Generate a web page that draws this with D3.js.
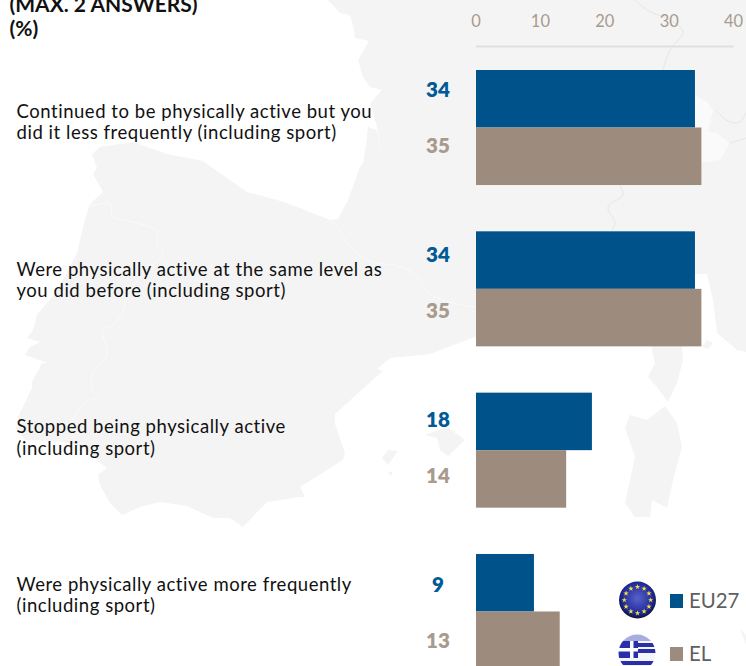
<!DOCTYPE html>
<html><head><meta charset="utf-8">
<script src="https://cdn.jsdelivr.net/npm/d3@7/dist/d3.min.js"></script>
<style>html,body{margin:0;padding:0;background:#fff;overflow:hidden}svg{display:block}text{font-family:Lato,"Open Sans",sans-serif}</style>
</head><body><svg id="c" width="746" height="666"></svg>
<script>
// ---- chart data
const categories = ["Continued","Same level","Stopped","More frequently"];
const categoryLines = [
  ["Continued to be physically active but you","did it less frequently (including sport)"],
  ["Were physically active at the same level as","you did before (including sport)"],
  ["Stopped being physically active","(including sport)"],
  ["Were physically active more frequently","(including sport)"]
];
const seriesNames = ["EU27","EL"];
const eu27 = [34,34,18,9];
const el = [35,35,14,13];
const xTicks = [0,10,20,30,40];
const titleLines = ["(MAX. 2 ANSWERS)","(%)"];

// ---- decorative background map outlines
const land = [[328,0],[340,13],[350,15],[354,30],[355,38],[369,41],[358,60],[363,77],[370,87],[382,90],[373,100],[370,104],[377,127],[383,159],[377,130],[368,127],[366,145],[363,163],[360,167],[348,200],[338,219],[330,220],[310,212],[292,205],[277,200],[247,192],[207,164],[203,161],[167,154],[133,142],[100,147],[92,154],[97,168],[93,174],[103,192],[90,204],[85,219],[77,253],[57,291],[37,315],[33,330],[27,338],[40,342],[30,347],[25,355],[48,363],[42,363],[32,382],[32,388],[18,417],[16,430],[25,440],[57,441],[67,443],[83,447],[100,463],[107,468],[98,475],[100,485],[110,503],[122,515],[140,507],[160,502],[187,506],[213,518],[230,518],[243,527],[267,502],[300,497],[305,497],[300,487],[343,460],[345,453],[335,424],[335,414],[377,376],[383,371],[377,369],[390,358],[430,354],[480,335],[600,315],[695,274],[707,274],[713,300],[717,333],[737,350],[746,352],[746,0]];
const islands = [
  [[652,345],[682,345],[683,360],[677,383],[668,402],[657,387],[648,377],[655,363],[652,350]],
  [[665,406],[677,423],[682,447],[673,480],[667,508],[652,500],[650,517],[635,517],[625,503],[630,480],[635,457],[625,428],[630,415],[647,420]],
  [[425,435],[447,427],[465,440],[448,456],[440,450],[437,438]],
  [[382,458],[388,450],[398,451],[388,465]],
  [[388,473],[393,477],[391,471]],
  [[740,629],[746,635],[746,645]],
  [[702,347],[707,340],[713,343],[708,349]]
];
const pale = [[695,95],[707,102],[713,110],[708,132],[717,133],[730,143],[720,160],[701,163],[695,160]];
const borders = [
  [[328,219],[340,231],[347,242],[367,260],[397,266],[417,276],[430,294],[457,304],[480,307]],
  [[88,207],[110,204],[113,217],[133,222],[157,231],[157,246],[163,253],[147,271],[127,294],[123,312],[113,325],[103,330],[107,355],[93,373],[92,390],[98,397],[85,402],[72,420],[65,430]],
  [[635,0],[647,10],[670,20],[683,32],[670,50],[663,70]],
  [[620,185],[623,195],[608,207],[615,223],[612,230]],
  [[715,110],[730,122],[740,122],[746,112]],
  [[730,143],[746,138]]
];

const svg = d3.select("#c");
const BLUE="#00538a", TAN="#9d8b7e", TANTXT="#a89a8e", BLUETXT="#005a96";

// defs
const defs = svg.append("defs");
const g1 = defs.append("radialGradient").attr("id","euG").attr("cx","50%").attr("cy","45%").attr("r","55%");
g1.append("stop").attr("offset","0%").attr("stop-color","#5a62c8");
g1.append("stop").attr("offset","75%").attr("stop-color","#1f2a9c");
g1.append("stop").attr("offset","100%").attr("stop-color","#0d1238");
defs.append("clipPath").attr("id","grC").append("circle").attr("cx",637).attr("cy",653).attr("r",18.5);
defs.append("filter").attr("id","soft").append("feGaussianBlur").attr("stdDeviation",0.5);

// map
const line = d3.line();
const mapG = svg.append("g");
mapG.append("path").attr("d",line(land)+"Z").attr("fill","#f4f4f4");
islands.forEach(p=>mapG.append("path").attr("d",line(p)+"Z").attr("fill","#f4f4f4"));
mapG.append("path").attr("d",line(pale)+"Z").attr("fill","#fafafa");
const curved = d3.line().curve(d3.curveCatmullRom);
borders.forEach(p=>mapG.append("path").attr("d",curved(p)).attr("fill","none")
  .attr("stroke",p[0][0]>600?"#e6e6e6":"#fbfbfb").attr("stroke-width",1));

// scales
const x = d3.scaleLinear().domain([0,40]).range([476,733.6]);
const y = d3.scaleBand().domain(categories).range([70,669]).paddingInner(0.287).paddingOuter(0);
const ySub = d3.scaleBand().domain(seriesNames).range([0,y.bandwidth()]);
const yLab = d3.scalePoint().domain(categories).range([97,592]);
const yTxt = d3.scalePoint().domain(categories).range([118,591]);

// axis
svg.append("line").attr("x1",x(0)).attr("x2",x(40)).attr("y1",46.5).attr("y2",46.5)
  .attr("stroke","#dfdfdf").attr("stroke-width",2);
svg.append("g").selectAll("text").data(xTicks).join("text")
  .attr("x",d=>x(d)).attr("y",27).attr("text-anchor","middle")
  .attr("font-size",16.5).attr("fill",TANTXT).text(d=>d);

// bars
const series = [{name:"EU27",values:eu27,color:BLUE},{name:"EL",values:el,color:TAN}];
series.forEach(s=>{
  svg.append("g").selectAll("rect").data(categories).join("rect")
    .attr("x",x(0)).attr("y",c=>y(c)+ySub(s.name))
    .attr("width",(c,i)=>x(s.values[i])-x(0)).attr("height",ySub.bandwidth())
    .attr("fill",s.color);
});

// value labels
series.forEach((s,k)=>{
  svg.append("g").selectAll("text").data(categories).join("text")
    .attr("x",438).attr("y",c=>yLab(c)+k*55.5).attr("text-anchor","middle")
    .attr("font-size",20.5).attr("font-weight",800)
    .attr("fill",k?TANTXT:BLUETXT).text((c,i)=>s.values[i]);
});

// category labels
svg.append("g").selectAll("g").data(categories).join("g").each(function(c,i){
  d3.select(this).selectAll("text").data(categoryLines[i]).join("text")
    .attr("x",16.5).attr("y",(d,j)=>yTxt(c)+j*21.3)
    .attr("font-size",18.5).attr("letter-spacing",0.54).attr("fill","#111").text(d=>d);
});

// title
svg.append("g").selectAll("text").data(titleLines).join("text")
  .attr("x",9.5).attr("y",(d,i)=>12+i*24).attr("font-size",21).attr("font-weight",700)
  .attr("fill","#111").text(d=>d);

// legend
const legendY = d3.scalePoint().domain(seriesNames).range([601,654]);
series.forEach(s=>{
  svg.append("rect").attr("x",670).attr("y",legendY(s.name)-7).attr("width",13).attr("height",14).attr("fill",s.color);
  svg.append("text").attr("x",689).attr("y",legendY(s.name)+7).attr("font-size",20.4).attr("fill","#5f5f5f").text(s.name);
});
// EU flag
svg.append("circle").attr("cx",637.5).attr("cy",600).attr("r",18.5).attr("fill","url(#euG)");
d3.range(12).forEach(i=>{
  const a=i*Math.PI/6;
  svg.append("path").attr("d",d3.symbol(d3.symbolStar,9)())
    .attr("transform",`translate(${637.5+13.2*Math.sin(a)},${600-13.2*Math.cos(a)})`).attr("fill","#f4e23a");
});
// Greek flag
const gr = svg.append("g").attr("clip-path","url(#grC)").append("g").attr("filter","url(#soft)");
const bands = [
  {x:618,y:634,w:38,h:7,f:"#a9acdf"},
  {x:618,y:641,w:38,h:25,f:"#f4f5fb"},
  {x:638,y:643,w:18,h:4,f:"#2a2fa8"},
  {x:638,y:649,w:18,h:4,f:"#2a2fa8"},
  {x:618,y:641,w:20,h:17,f:"#2a2fa8"},
  {x:618,y:661,w:38,h:4,f:"#2a2fa8"},
  {x:618,y:648,w:20,h:3.5,f:"#fff"},
  {x:630,y:641,w:3.5,h:17,f:"#fff"}
];
gr.selectAll("rect").data(bands).join("rect").attr("x",d=>d.x).attr("y",d=>d.y).attr("width",d=>d.w).attr("height",d=>d.h).attr("fill",d=>d.f);
</script></body></html>
